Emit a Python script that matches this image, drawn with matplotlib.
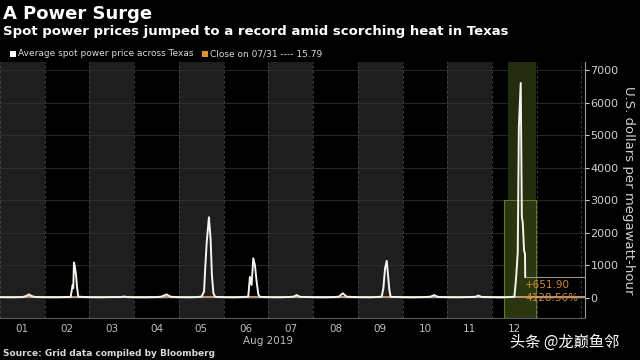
import matplotlib
matplotlib.use("Agg")
import matplotlib.pyplot as plt
from matplotlib.patches import Rectangle

# ---------------- data ----------------
# hours since Aug 1 2019 00:00, and average spot price ($/MWh)
hours = [0, 6, 12, 14, 15.5, 17, 19, 24,
         30, 36, 37.9, 39.0, 39.3, 39.7, 40.2, 40.8, 41.3, 42.0, 48,
         54, 60, 65, 66.5, 68, 72,
         78, 84, 86.5, 89.4, 91.5, 96,
         102, 106, 108.2, 109.5, 110.0, 110.9, 112.1, 113.0, 113.7, 114.5, 115.4, 120,
         126, 130, 133.2, 134.1, 135.0, 135.9, 136.8, 137.7, 138.6, 139.5, 144,
         150, 155, 157.5, 159.2, 161, 168,
         174, 180, 182, 183.9, 186, 192,
         198, 202, 204.8, 205.7, 206.6, 207.5, 208.2, 208.9, 209.6, 216,
         222, 228, 231, 232.9, 235, 240,
         246, 252, 255, 256.7, 258.5, 264,
         270, 274, 276.0, 276.9, 277.8, 278.4, 279.4, 280.0, 280.5, 281.2, 281.7, 281.8]
prices = [25, 22, 28, 60, 110, 60, 30, 25,
          22, 30, 35, 400, 300, 1090, 950, 700, 350, 40, 25,
          22, 28, 30, 45, 28, 24,
          22, 28, 40, 110, 40, 25,
          22, 30, 45, 200, 800, 1700, 2480, 1800, 700, 150, 35, 25,
          22, 30, 40, 650, 400, 1220, 1000, 500, 110, 35, 25,
          22, 30, 40, 90, 35, 25,
          22, 30, 45, 145, 40, 25,
          22, 30, 40, 300, 910, 1140, 700, 250, 35, 25,
          22, 30, 40, 90, 35, 25,
          22, 30, 35, 75, 30, 25,
          22, 30, 40, 600, 1400, 5260, 6600, 2500, 2300, 1450, 1350, 651.9]
close_0731 = 15.79
last_value = 651.9
pct_change = 4128.56
day_labels = ["01", "02", "03", "04", "05", "06", "07", "08", "09", "10", "11", "12"]
y_ticks = [0, 1000, 2000, 3000, 4000, 5000, 6000, 7000]

title = "A Power Surge"
subtitle = "Spot power prices jumped to a record amid scorching heat in Texas"
legend_labels = ["Average spot power price across Texas", "Close on 07/31 ---- 15.79"]
ylabel = "U.S. dollars per megawatt-hour"
xlabel = "Aug 2019"
source = "Source: Grid data compiled by Bloomberg"
watermark = "头条 @龙巅鱼邻"

# ---------------- figure ----------------
W, H = 640, 360
fig = plt.figure(figsize=(6.4, 3.6), dpi=100, facecolor="black")
ax = fig.add_axes([0, 1 - 318 / H, 585 / W, (318 - 62) / H])
ax.set_facecolor("black")

days = [h / 24.0 for h in hours]
xmax = 585 / 44.73
ax.set_xlim(0, xmax)
ax.set_ylim(-614, 7246)

# alternating day bands
for i in range(0, len(day_labels), 2):
    ax.axvspan(i, i + 1, color="#1e1e1e", zorder=0, lw=0)
for i in range(0, len(day_labels) + 2):
    ax.axvline(i, color="#4a4a4a", lw=0.6, ls=(0, (3, 3)), zorder=1)
for yv in y_ticks:
    ax.axhline(yv, color="#303030", lw=0.6, zorder=1)

# highlight box on day 12
x_hl0 = 508 / 44.73
x_hl1 = 536 / 44.73
ax.add_patch(Rectangle((x_hl0, -614), x_hl1 - x_hl0, 7246 + 614,
                       facecolor="#232c0e", edgecolor="none", zorder=1.5))
ax.add_patch(Rectangle((504 / 44.73, -614), x_hl1 - 504 / 44.73, 3000 + 614,
                       facecolor="#2b3611", edgecolor="#66762b", lw=0.8, zorder=1.6))

# close line
ax.axhline(close_0731, color="#c9a585", lw=1.3, zorder=2)
# series
ax.plot(days, prices, color="#f4f4f0", lw=1.4, zorder=3)
# last value marker line
ax.plot([days[-1], xmax], [last_value, last_value], color="#9a9080", lw=0.8, zorder=2.5)

ax.text(525 / 44.73, last_value - 100, "+651.90", color="#d08a30", fontsize=7.5,
        va="top", ha="left", zorder=4)
ax.text(525 / 44.73, 0, "4128.56%", color="#d08a30", fontsize=7.5,
        va="center", ha="left", zorder=4)

# axes styling
for s in ["top", "left"]:
    ax.spines[s].set_visible(False)
ax.spines["right"].set_color("#9a9a9a")
ax.spines["bottom"].set_color("#5a5a5a")
ax.spines["right"].set_linewidth(0.8)
ax.yaxis.tick_right()
ax.set_yticks(y_ticks)
ax.set_yticklabels([str(v) for v in y_ticks])
ax.tick_params(axis="y", colors="#cfcfcf", labelsize=8, length=3, width=0.8, pad=1)
ax.set_xticks([i + 0.5 for i in range(len(day_labels))])
ax.set_xticklabels(day_labels)
ax.tick_params(axis="x", colors="#bdbdbd", labelsize=7.5, length=0, pad=4)

fig.text(628 / W, 1 - 190 / H, ylabel, rotation=270, color="#d0d0d0", fontsize=9.5,
         ha="center", va="center")
fig.text(268 / W, 1 - 341 / H, xlabel, color="#bdbdbd", fontsize=7.5, ha="center", va="center")

# titles
fig.text(3 / W, 1 - 14 / H, title, color="white", fontsize=13, fontweight="bold",
         ha="left", va="center")
fig.text(3 / W, 1 - 32 / H, subtitle, color="white", fontsize=9.5, fontweight="bold",
         ha="left", va="center")

# legend
fig.patches.append(Rectangle((10 / W, 1 - 57 / H), 6 / W, 6 / H, transform=fig.transFigure,
                             facecolor="white", edgecolor="none"))
fig.text(18 / W, 1 - 54 / H, legend_labels[0], color="#d8d8d8", fontsize=6.5,
         ha="left", va="center")
fig.patches.append(Rectangle((202 / W, 1 - 57 / H), 6 / W, 6 / H, transform=fig.transFigure,
                             facecolor="#e0952a", edgecolor="none"))
fig.text(210 / W, 1 - 54 / H, legend_labels[1], color="#d8d8d8", fontsize=6.5,
         ha="left", va="center")

fig.text(3 / W, 1 - 353 / H, source, color="#d8d8d8", fontsize=6.5, fontweight="bold",
         ha="left", va="center")
fig.text(510 / W, 1 - 342 / H, watermark, color="white", fontsize=11,
         family=["Noto Sans CJK SC", "DejaVu Sans"], ha="left", va="center")

fig.savefig("out.png", dpi=100, facecolor="black")
